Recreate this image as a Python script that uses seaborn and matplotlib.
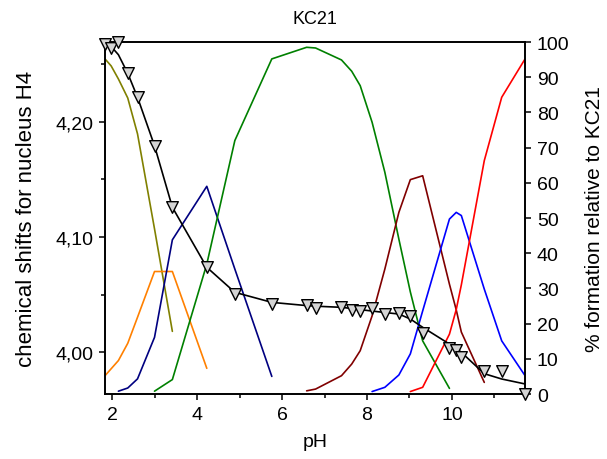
import numpy as np
import pandas as pd
import matplotlib
matplotlib.use("Agg")
import matplotlib.pyplot as plt
import seaborn as sns
from matplotlib.ticker import FixedLocator, FuncFormatter

sns.set_theme(style="white")
plt.rcParams['font.family'] = ['Liberation Sans', 'DejaVu Sans']

# ---- data ----
ph = [1.835, 1.98, 2.15, 2.37, 2.60, 3.00, 3.42, 4.23, 4.89, 5.76, 6.58, 6.79, 7.40,
      7.64, 7.84, 8.12, 8.42, 8.75, 9.02, 9.31, 9.94, 10.10, 10.22, 10.76, 11.17, 11.72]
shift_obs = [4.2669, 4.2641, 4.2685, 4.2418, 4.2210, 4.1790, 4.1257, 4.0737, 4.0505,
             4.0419, 4.0410, 4.0388, 4.0397, 4.0369, 4.0358, 4.0384, 4.0332, 4.0345,
             4.0315, 4.0167, 4.0035, 4.0020, 3.9957, 3.9838, 3.9838, 3.9643]
shift_fit = [4.2689, 4.2650, 4.2579, 4.2418, 4.2210, 4.1790, 4.1257, 4.0737, 4.0520,
             4.0433, 4.0405, 4.0400, 4.0390, 4.0380, 4.0370, 4.0358, 4.0345, 4.0332,
             4.0289, 4.0217, 4.0072, 4.0035, 4.0000, 3.9815, 3.9769, 3.9726]

olive_ph = [1.835, 1.98, 2.15, 2.37, 2.60, 3.00, 3.42]
olive_pct = [95.2, 93.2, 89.5, 84.1, 73.9, 46.9, 17.8]

orange_ph = [1.835, 2.15, 2.37, 2.60, 3.00, 3.42, 4.23]
orange_pct = [5.2, 9.5, 14.4, 21.8, 34.8, 34.8, 7.3]

navy_ph = [2.15, 2.37, 2.60, 3.00, 3.42, 4.23, 4.89, 5.76]
navy_pct = [0.8, 1.7, 4.3, 16.1, 43.8, 59.0, 35.5, 5.0]

green_ph = [3.00, 3.42, 4.23, 4.89, 5.76, 6.58, 6.79, 7.40, 7.64, 7.84, 8.12, 8.42,
            8.75, 9.02, 9.31, 9.94]
green_pct = [0.8, 4.1, 36.9, 72.0, 95.2, 98.5, 98.3, 94.9, 91.7, 87.6, 77.2, 63.0,
             44.0, 29.0, 15.1, 1.6]

maroon_ph = [6.58, 6.79, 7.40, 7.64, 7.84, 8.12, 8.42, 8.75, 9.02, 9.31, 9.94, 10.10,
             10.22, 10.76]
maroon_pct = [0.9, 1.4, 5.2, 8.5, 12.3, 22.2, 35.5, 51.6, 60.9, 62.0, 31.2, 23.9,
              17.6, 3.3]

blue_ph = [8.12, 8.42, 8.75, 9.02, 9.31, 9.94, 10.10, 10.22, 10.76, 11.17, 11.72]
blue_pct = [0.7, 1.9, 5.4, 11.4, 23.6, 49.7, 51.6, 50.7, 29.8, 15.1, 5.2]

red_ph = [9.02, 9.31, 9.94, 10.10, 10.22, 10.76, 11.17, 11.72]
red_pct = [0.7, 1.9, 17.0, 24.0, 31.0, 66.3, 84.3, 95.2]

species = {
    "olive": (olive_ph, olive_pct, "#808000"),
    "orange": (orange_ph, orange_pct, "#FF8000"),
    "navy": (navy_ph, navy_pct, "#000080"),
    "green": (green_ph, green_pct, "#008000"),
    "maroon": (maroon_ph, maroon_pct, "#800000"),
    "blue": (blue_ph, blue_pct, "#0000FF"),
    "red": (red_ph, red_pct, "#FF0000"),
}

rows = []
for name, (xs, ys, _) in species.items():
    for x, y in zip(xs, ys):
        rows.append({"species": name, "pH": x, "pct": y})
spec_df = pd.DataFrame(rows)
palette = {name: c for name, (_, _, c) in species.items()}

shift_df = pd.DataFrame({"pH": ph, "obs": shift_obs, "fit": shift_fit})

# ---- figure ----
fig = plt.figure(figsize=(6.07, 4.60), dpi=100)
ax = fig.add_axes([0.173, 0.1413, 0.6919, 0.7652])
ax2 = ax.twinx()

sns.lineplot(data=spec_df, x="pH", y="pct", hue="species", palette=palette,
             estimator=None, sort=False, legend=False, linewidth=1.2, ax=ax2)

sns.lineplot(data=shift_df, x="pH", y="fit", color="black", linewidth=1.2,
             estimator=None, sort=False, ax=ax)
sns.scatterplot(data=shift_df, x="pH", y="obs", marker="v", s=70,
                color="#d4d4d4", edgecolor="black", linewidth=1.0,
                clip_on=False, zorder=5, ax=ax)

ax.set_zorder(ax2.get_zorder() + 1)
ax.patch.set_visible(False)

ax.set_xlim(1.835, 11.718)
ax.set_ylim(3.9639, 4.2689)
ax2.set_ylim(0, 100)

ax.xaxis.set_major_locator(FixedLocator([2, 4, 6, 8, 10]))
ax.xaxis.set_minor_locator(FixedLocator([3, 5, 7, 9, 11]))
ax.yaxis.set_major_locator(FixedLocator([4.00, 4.10, 4.20]))
ax.yaxis.set_minor_locator(FixedLocator([4.05, 4.15, 4.25]))
ax.yaxis.set_major_formatter(FuncFormatter(lambda v, p: f"{v:.2f}".replace(".", ",")))
ax2.yaxis.set_major_locator(FixedLocator(list(range(0, 101, 10))))
ax2.yaxis.set_minor_locator(FixedLocator([]))

for a in (ax, ax2):
    for s in a.spines.values():
        s.set_color("black")
        s.set_linewidth(1.2)
    a.tick_params(which="major", direction="out", length=4.5, width=1.1,
                  color="black", labelsize=14, labelcolor="black", pad=4)
    a.tick_params(which="minor", direction="out", length=3, width=1.1, color="black")
ax.tick_params(axis="x", which="both", bottom=True, top=False)
ax.tick_params(axis="y", which="both", left=True, right=False)
ax2.tick_params(axis="y", which="both", right=True, left=False)

ax.set_xlabel("pH", fontsize=14, color="black", labelpad=7)
ax.set_ylabel("chemical shifts for nucleus H4", fontsize=16, color="black", labelpad=13)
ax2.set_ylabel("% formation relative to KC21", fontsize=15, color="black", labelpad=11)
ax.set_title("KC21", fontsize=13, color="black", pad=14)

fig.savefig("out.png", dpi=100)
